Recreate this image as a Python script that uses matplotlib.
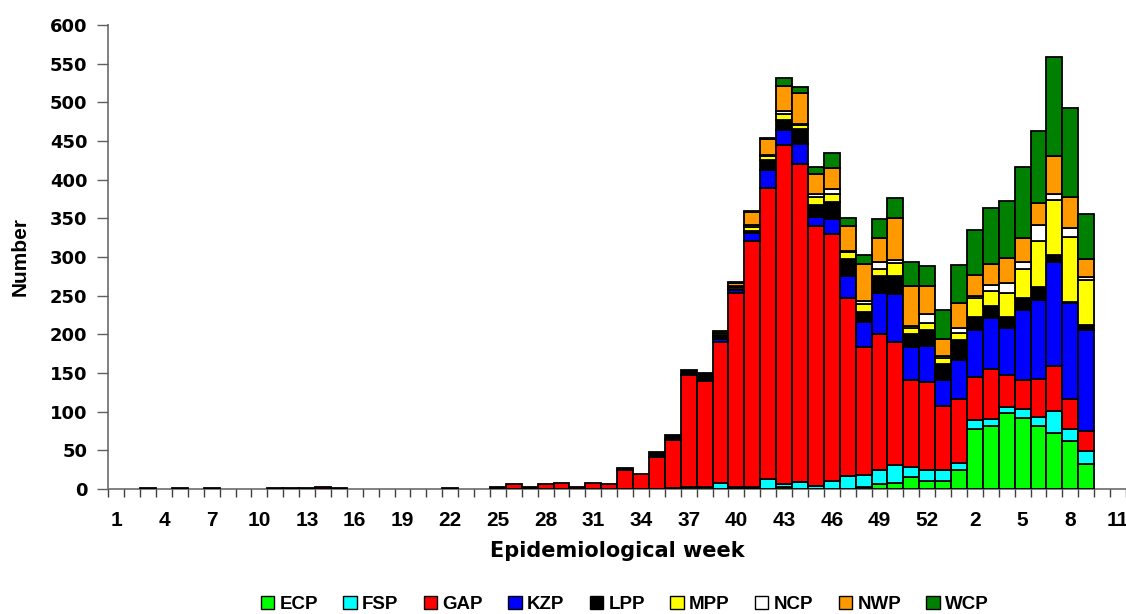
import numpy as np
import matplotlib
matplotlib.use("Agg")
import matplotlib.pyplot as plt
from matplotlib.patches import Patch

# Epidemiological weeks: year 1 weeks 1-53, year 2 weeks 1-11
weeks = list(range(1, 54)) + list(range(1, 12))

series_names = ["ECP", "FSP", "GAP", "KZP", "LPP", "MPP", "NCP", "NWP", "WCP"]
colors = ["#00FF00", "#00FFFF", "#FF0000", "#0000FF", "#000000",
          "#FFFF00", "#FFFFFF", "#FF9900", "#008000"]

N = len(weeks)

def series(d):
    arr = [0] * N
    for pos, v in d.items():
        arr[pos - 1] = v
    return arr

# values by bar position (1-based)
ECP = series({37: 3, 40: 1, 41: 1, 43: 3, 48: 3, 49: 6, 50: 8, 51: 16, 52: 10, 53: 10,
               54: 25, 55: 77, 56: 81, 57: 98, 58: 92, 59: 81, 60: 73, 61: 62, 62: 32})
FSP = series({36: 1, 38: 2, 39: 8, 40: 2, 41: 2, 42: 13, 43: 4, 44: 9, 45: 4, 46: 10,
               47: 17, 48: 15, 49: 18, 50: 23, 51: 13, 52: 14, 53: 14, 54: 9, 55: 12,
               56: 10, 57: 8, 58: 12, 59: 12, 60: 28, 61: 15, 62: 17})
GAP = series({3: 1, 5: 1, 7: 1, 11: 1, 12: 1, 13: 1, 14: 3, 15: 1, 22: 1, 26: 6,
               28: 6, 29: 8, 30: 2, 31: 8, 32: 6, 33: 24, 34: 19, 35: 42, 36: 63,
               37: 145, 38: 138, 39: 182, 40: 250, 41: 318, 42: 376, 43: 438, 44: 411,
               45: 336, 46: 320, 47: 230, 48: 166, 49: 176, 50: 159, 51: 112, 52: 114,
               53: 83, 54: 83, 55: 56, 56: 64, 57: 41, 58: 37, 59: 49, 60: 58, 61: 39,
               62: 26})
KZP = series({39: 4, 40: 4, 41: 10, 42: 24, 43: 19, 44: 26, 45: 12, 46: 19, 47: 28,
               48: 32, 49: 54, 50: 62, 51: 42, 52: 47, 53: 34, 54: 50, 55: 61, 56: 66,
               57: 61, 58: 91, 59: 103, 60: 134, 61: 124, 62: 130})
LPP = series({25: 3, 27: 3, 33: 3, 35: 6, 36: 6, 37: 6, 38: 10, 39: 2, 40: 2, 41: 3,
               42: 13, 43: 13, 44: 19, 45: 15, 46: 22, 47: 22, 48: 13, 49: 22, 50: 24,
               51: 18, 52: 20, 53: 21, 54: 26, 55: 16, 56: 15, 57: 15, 58: 15, 59: 16,
               60: 10, 61: 2, 62: 7})
MPP = series({39: 2, 40: 2, 41: 5, 42: 4, 43: 8, 44: 6, 45: 10, 46: 10, 47: 9, 48: 10,
               49: 8, 50: 16, 51: 7, 52: 10, 53: 7, 54: 9, 55: 25, 56: 20, 57: 31,
               58: 38, 59: 60, 60: 71, 61: 84, 62: 58})
NCP = series({39: 1, 40: 1, 41: 2, 42: 2, 43: 4, 44: 1, 45: 4, 46: 7, 47: 2, 48: 4,
               49: 10, 50: 4, 51: 3, 52: 11, 53: 3, 54: 6, 55: 3, 56: 8, 57: 13, 58: 8,
               59: 21, 60: 8, 61: 12, 62: 4})
NWP = series({39: 3, 40: 4, 41: 17, 42: 21, 43: 32, 44: 40, 45: 26, 46: 27, 47: 32,
               48: 48, 49: 30, 50: 54, 51: 51, 52: 36, 53: 22, 54: 33, 55: 27, 56: 27,
               57: 32, 58: 31, 59: 28, 60: 48, 61: 39, 62: 24})
WCP = series({39: 2, 40: 2, 41: 2, 42: 1, 43: 11, 44: 8, 45: 9, 46: 19, 47: 11, 48: 12,
               49: 25, 50: 26, 51: 32, 52: 26, 53: 38, 54: 49, 55: 58, 56: 72, 57: 74,
               58: 93, 59: 93, 60: 129, 61: 116, 62: 58})

data = [ECP, FSP, GAP, KZP, LPP, MPP, NCP, NWP, WCP]
yticks = list(range(0, 601, 50))

plt.rcParams["font.family"] = ["Liberation Sans", "DejaVu Sans"]
plt.rcParams["font.weight"] = "bold"

fig = plt.figure(figsize=(11.26, 6.14), dpi=100)
ax = fig.add_axes([108.3 / 1126, (614 - 489) / 614, 1 - 108.3 / 1126, (489 - 25) / 614])

x = np.arange(1, N + 1)
bottom = np.zeros(N)
for name, vals, col in zip(series_names, data, colors):
    v = np.array(vals, dtype=float)
    lw = np.where(v > 0, 1.3, 0.0)
    ax.bar(x, v, width=1.0, bottom=bottom, color=col, edgecolor="black",
           linewidth=lw, zorder=2)
    bottom += v

ax.set_xlim(0.5, 0.5 + (1126 - 108.3) / 15.94)
ax.set_ylim(0, 600)

for s in ["top", "right"]:
    ax.spines[s].set_visible(False)
for s in ["left", "bottom"]:
    ax.spines[s].set_color("#808080")
    ax.spines[s].set_linewidth(1.4)
    ax.spines[s].set_zorder(1)

ax.set_yticks(yticks)
ax.set_yticklabels([str(t) for t in yticks], fontsize=13, fontweight="bold",
                   family="DejaVu Sans")
ax.tick_params(axis="y", direction="out", length=8, width=1.0, color="#606060", pad=7)

major = x[::3]
ax.set_xticks(major)
ax.set_xticklabels([str(weeks[i - 1]) for i in major], fontsize=15, fontweight="bold")
ax.set_xticks(np.arange(0.5, N + 0.6, 1.0), minor=True)
ax.tick_params(axis="x", which="major", length=0, pad=16)
ax.tick_params(axis="x", which="minor", direction="out", length=6, width=1.0, color="#404040")

ax.set_xlabel("Epidemiological week", fontsize=15, fontweight="bold", labelpad=8,
              family="DejaVu Sans")
ax.set_ylabel("Number", fontsize=15, fontweight="bold")
ax.yaxis.set_label_coords(-0.077, 0.5)

handles = [Patch(facecolor=c, edgecolor="black", linewidth=1.0) for c in colors]
fig.legend(handles, series_names, loc="center", bbox_to_anchor=(0.555, 0.016),
           ncol=9, frameon=False, handlelength=0.7, handleheight=0.7,
           handletextpad=0.3, columnspacing=1.35,
           prop={"weight": "bold", "size": 13.5})

fig.savefig("out.png", dpi=100)
